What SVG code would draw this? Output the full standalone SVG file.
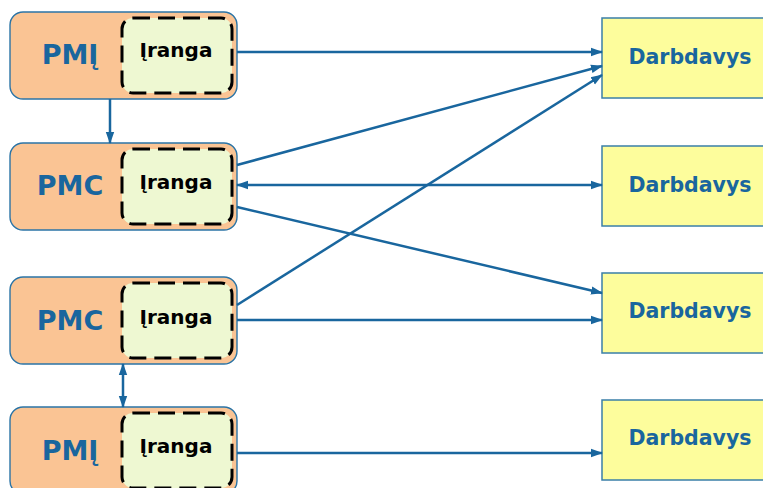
<svg xmlns="http://www.w3.org/2000/svg" width="763" height="488" viewBox="0 0 763 488">
<style>
.outer{fill:#FAC494;stroke:#2B74A6;stroke-width:1.4}
.inner{fill:#EEF8D2;stroke:#000;stroke-width:3;stroke-dasharray:17 8}
.emp{fill:#FDFD9C;stroke:#3A7FA8;stroke-width:1.5}
.big{font-family:"DejaVu Sans",sans-serif;font-weight:bold;font-size:27px;fill:#19669E;text-anchor:middle}
.eq{font-family:"DejaVu Sans",sans-serif;font-weight:bold;font-size:20px;fill:#000;text-anchor:middle}
.emt{font-family:"DejaVu Sans",sans-serif;font-weight:bold;font-size:20.5px;fill:#19669E;text-anchor:middle}
.c{stroke:#19669E;stroke-width:2.5;fill:none}
</style>
<defs>
<marker id="ah" markerUnits="userSpaceOnUse" markerWidth="12" markerHeight="10" refX="11" refY="5" orient="auto-start-reverse" viewBox="0 0 12 10">
<path d="M0,0.8 L12,5 L0,9.2 Z" fill="#19669E"/>
</marker>
</defs>
<g id="pmi1">
<rect class="outer" x="10" y="12" width="227" height="87" rx="13"/>
<rect class="inner" x="122" y="18" width="110" height="75" rx="11"/>
<text class="big" x="70" y="64">PMĮ</text>
<text class="eq" x="176" y="57">Įranga</text>
</g>
<g id="pmc1">
<rect class="outer" x="10" y="143" width="227" height="87" rx="13"/>
<rect class="inner" x="122" y="149" width="110" height="75" rx="11"/>
<text class="big" x="70" y="195">PMC</text>
<text class="eq" x="176" y="189">Įranga</text>
</g>
<g id="pmc2">
<rect class="outer" x="10" y="277" width="227" height="87" rx="13"/>
<rect class="inner" x="122" y="283" width="110" height="75" rx="11"/>
<text class="big" x="70" y="330">PMC</text>
<text class="eq" x="176" y="324">Įranga</text>
</g>
<g id="pmi2">
<rect class="outer" x="10" y="407" width="227" height="87" rx="13"/>
<rect class="inner" x="122" y="413" width="110" height="75" rx="11"/>
<text class="big" x="70" y="460">PMĮ</text>
<text class="eq" x="176" y="453">Įranga</text>
</g>
<g id="d1">
<rect class="emp" x="602" y="18" width="170" height="80"/>
<text class="emt" x="690" y="64">Darbdavys</text>
</g>
<g id="d2">
<rect class="emp" x="602" y="146" width="170" height="80"/>
<text class="emt" x="690" y="192">Darbdavys</text>
</g>
<g id="d3">
<rect class="emp" x="602" y="273" width="170" height="80"/>
<text class="emt" x="690" y="318">Darbdavys</text>
</g>
<g id="d4">
<rect class="emp" x="602" y="400" width="170" height="80"/>
<text class="emt" x="690" y="445">Darbdavys</text>
</g>
<g id="connectors">
<line class="c" x1="237" y1="52" x2="602" y2="52" marker-end="url(#ah)"/>
<line class="c" x1="237" y1="165" x2="602" y2="66" marker-end="url(#ah)"/>
<line class="c" x1="237" y1="305" x2="602" y2="75" marker-end="url(#ah)"/>
<line class="c" x1="237" y1="185" x2="602" y2="185" marker-start="url(#ah)" marker-end="url(#ah)"/>
<line class="c" x1="237" y1="207" x2="602" y2="293" marker-end="url(#ah)"/>
<line class="c" x1="237" y1="320" x2="602" y2="320" marker-end="url(#ah)"/>
<line class="c" x1="237" y1="453" x2="602" y2="453" marker-end="url(#ah)"/>
<line class="c" x1="110" y1="99" x2="110" y2="143" marker-end="url(#ah)"/>
<line class="c" x1="123" y1="364" x2="123" y2="407" marker-start="url(#ah)" marker-end="url(#ah)"/>
</g>
</svg>
